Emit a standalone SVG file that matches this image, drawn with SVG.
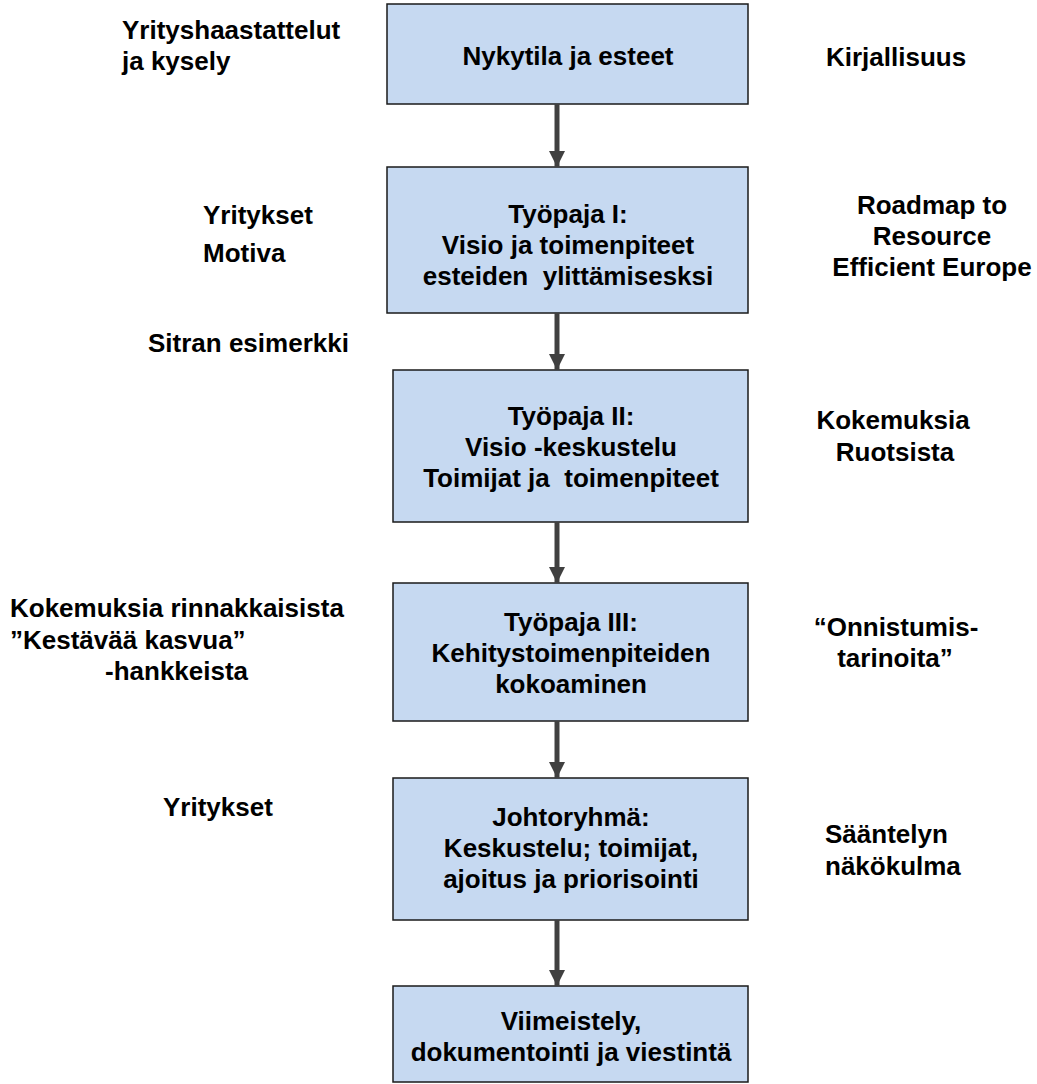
<svg xmlns="http://www.w3.org/2000/svg" width="1037" height="1084" viewBox="0 0 1037 1084">
  <defs>
    <style>
      .box { fill: #c6d9f1; stroke: #1a1a1a; stroke-width: 1.5; }
      .t { font-family: "Liberation Sans", Arial, sans-serif; font-weight: bold; font-size: 26px; fill: #000; }
      .c { text-anchor: middle; }
      .flow { stroke: #404040; stroke-width: 5; fill: none; }
    </style>
    <marker id="head" markerUnits="userSpaceOnUse" markerWidth="16" markerHeight="16" viewBox="0 0 16 16" refX="16" refY="8" orient="auto">
      <path d="M0,0 L16,8 L0,16 Z" fill="#404040"/>
    </marker>
  </defs>
  <rect width="1037" height="1084" fill="#ffffff"/>

  <!-- process steps -->
  <g id="step-nykytila">
    <rect class="box" x="387" y="4" width="361" height="100"/>
    <text class="t c" x="568" y="65">Nykytila ja esteet</text>
  </g>
  <g id="step-tyopaja1">
    <rect class="box" x="387" y="167" width="361" height="146"/>
    <text class="t c" x="568" y="223">Työpaja I:</text>
    <text class="t c" x="568" y="254">Visio ja toimenpiteet</text>
    <text class="t c" x="568" y="285" xml:space="preserve">esteiden  ylittämisesksi</text>
  </g>
  <g id="step-tyopaja2">
    <rect class="box" x="393" y="370" width="355" height="152"/>
    <text class="t c" x="571" y="425">Työpaja II:</text>
    <text class="t c" x="571" y="456">Visio -keskustelu</text>
    <text class="t c" x="571" y="487" xml:space="preserve">Toimijat ja  toimenpiteet</text>
  </g>
  <g id="step-tyopaja3">
    <rect class="box" x="393" y="583" width="355" height="138"/>
    <text class="t c" x="571" y="631">Työpaja III:</text>
    <text class="t c" x="571" y="662">Kehitystoimenpiteiden</text>
    <text class="t c" x="571" y="693">kokoaminen</text>
  </g>
  <g id="step-johtoryhma">
    <rect class="box" x="393" y="778" width="355" height="142"/>
    <text class="t c" x="571" y="826">Johtoryhmä:</text>
    <text class="t c" x="571" y="857">Keskustelu; toimijat,</text>
    <text class="t c" x="571" y="888">ajoitus ja priorisointi</text>
  </g>
  <g id="step-viimeistely">
    <rect class="box" x="393" y="986" width="355" height="96"/>
    <text class="t c" x="571" y="1030">Viimeistely,</text>
    <text class="t c" x="571" y="1061">dokumentointi ja viestintä</text>
  </g>

  <!-- connectors between steps -->
  <g id="connectors">
    <line class="flow" x1="557" y1="104" x2="557" y2="167" marker-end="url(#head)"/>
    <line class="flow" x1="557" y1="313" x2="557" y2="370" marker-end="url(#head)"/>
    <line class="flow" x1="557" y1="522" x2="557" y2="583" marker-end="url(#head)"/>
    <line class="flow" x1="557" y1="721" x2="557" y2="778" marker-end="url(#head)"/>
    <line class="flow" x1="557" y1="920" x2="557" y2="986" marker-end="url(#head)"/>
  </g>

  <!-- inputs, left column -->
  <g id="inputs-left">
    <text class="t" x="122" y="39">Yrityshaastattelut</text>
    <text class="t" x="122" y="70">ja kysely</text>
    <text class="t" x="203" y="224">Yritykset</text>
    <text class="t" x="203" y="262">Motiva</text>
    <text class="t" x="148" y="352">Sitran esimerkki</text>
    <text class="t" x="10" y="617">Kokemuksia rinnakkaisista</text>
    <text class="t" x="10" y="649">”Kestävää kasvua”</text>
    <text class="t" x="105" y="680">-hankkeista</text>
    <text class="t" x="163" y="816">Yritykset</text>
  </g>

  <!-- inputs, right column -->
  <g id="inputs-right">
    <text class="t" x="826" y="66">Kirjallisuus</text>
    <text class="t c" x="932" y="214">Roadmap to</text>
    <text class="t c" x="932" y="245">Resource</text>
    <text class="t c" x="932" y="276">Efficient Europe</text>
    <text class="t c" x="893" y="429">Kokemuksia</text>
    <text class="t c" x="895" y="461">Ruotsista</text>
    <text class="t c" x="896" y="636">“Onnistumis-</text>
    <text class="t c" x="895" y="667">tarinoita”</text>
    <text class="t" x="825" y="843">Sääntelyn</text>
    <text class="t" x="825" y="875">näkökulma</text>
  </g>
</svg>
